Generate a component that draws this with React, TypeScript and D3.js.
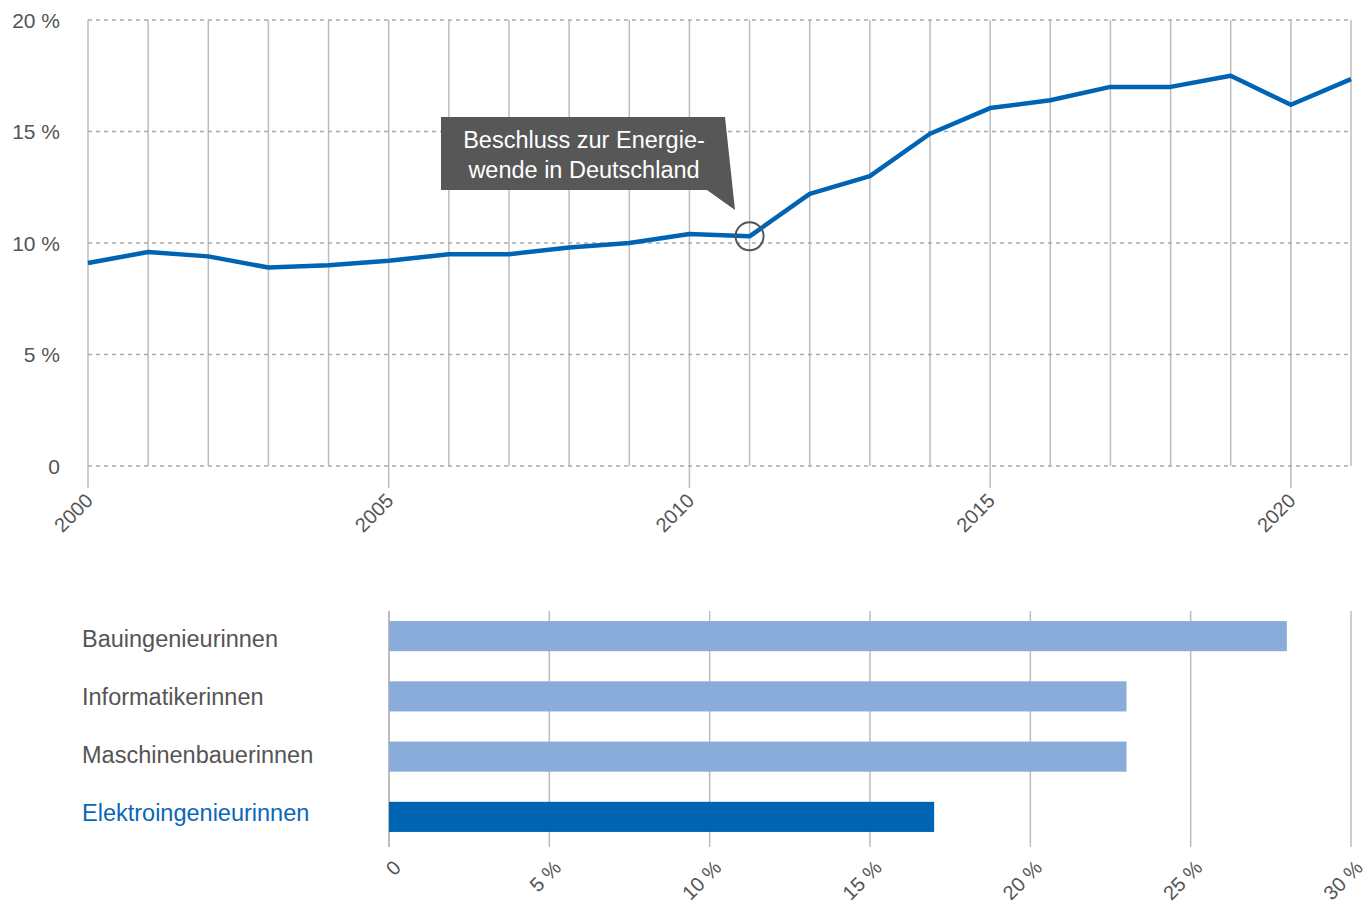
import React from "react";
import * as d3 from "d3";

const years = [2000, 2001, 2002, 2003, 2004, 2005, 2006, 2007, 2008, 2009, 2010, 2011, 2012, 2013, 2014, 2015, 2016, 2017, 2018, 2019, 2020, 2021];
const shares = [9.1, 9.6, 9.4, 8.9, 9.0, 9.2, 9.5, 9.5, 9.8, 10.0, 10.4, 10.3, 12.2, 13.0, 14.9, 16.05, 16.4, 17.0, 17.0, 17.5, 16.2, 17.35];
const yTicks = [0, 5, 10, 15, 20];
const xLabelYears = [2000, 2005, 2010, 2015, 2020];

const annotationLines = ["Beschluss zur Energie-", "wende in Deutschland"];
const annotationYear = 2011;

const barCategories = ["Bauingenieurinnen", "Informatikerinnen", "Maschinenbauerinnen", "Elektroingenieurinnen"];
const barValues = [28, 23, 23, 17];
const barHighlight = [false, false, false, true];
const barTicks = [0, 5, 10, 15, 20, 25, 30];

const FONT = "'Liberation Sans', Arial, Helvetica, sans-serif";
const GRID = "#bcbcbc";
const TEXT = "#555555";
const BLUE = "#0064b4";
const LIGHT = "#8aacdb";

export default function App() {
  const x = d3.scaleLinear().domain([2000, 2021]).range([88, 1351]);
  const y = d3.scaleLinear().domain([0, 20]).range([466, 20]);
  const line = d3.line<number>().x((_, i) => x(years[i])).y((d) => y(d));

  const bx = d3.scaleLinear().domain([0, 30]).range([389, 1351]);
  const by = d3.scaleBand<string>().domain(barCategories).range([606, 847]).paddingInner(0.5).paddingOuter(0.25);
  const labelY = d3.scalePoint<string>().domain(barCategories).range([647, 821]);

  const ai = years.indexOf(annotationYear);
  const ax = x(annotationYear);
  const ay = y(shares[ai]);

  return (
    <svg width={1366} height={903} style={{ position: "absolute", left: 0, top: 0, fontFamily: FONT }}>
      {/* vertical grid */}
      {years.map((yr) => (
        <line key={"v" + yr} x1={x(yr)} x2={x(yr)} y1={y(20)} y2={yr % 5 === 0 ? 488 : y(0)} stroke={GRID} strokeWidth={1.5} />
      ))}
      {/* horizontal dashed grid */}
      {yTicks.map((t) => (
        <g key={"h" + t}>
          <line x1={x(2000)} x2={x(2021)} y1={y(t)} y2={y(t)} stroke="#aaaaaa" strokeWidth={1.5} strokeDasharray="4,4" />
          <text x={60} y={y(t)} dy="0.38em" textAnchor="end" fontSize={21} fill={TEXT}>
            {t === 0 ? "0" : `${t} %`}
          </text>
        </g>
      ))}
      {xLabelYears.map((yr) => (
        <text key={"xl" + yr} transform={`translate(${x(yr) + 6},${502}) rotate(-45)`} textAnchor="end" fontSize={20} fill={TEXT}>
          {yr}
        </text>
      ))}
      <path d={line(shares) || ""} fill="none" stroke={BLUE} strokeWidth={4.5} strokeLinejoin="round" />
      {/* annotation */}
      <circle cx={ax} cy={ay} r={14} fill="none" stroke="#555" strokeWidth={2} />
      <polygon points={`441,117 725,117 735,210 707,190 441,190`} fill="#575757" />
      {annotationLines.map((l, i) => (
        <text key={"a" + i} x={584} y={148 + i * 30} textAnchor="middle" fontSize={23.5} fill="#fff">
          {l}
        </text>
      ))}

      {/* bar chart */}
      {barTicks.map((t) => (
        <g key={"bt" + t}>
          <line x1={bx(t)} x2={bx(t)} y1={611} y2={847} stroke={GRID} strokeWidth={t === 0 ? 2 : 1.5} />
          <text transform={`translate(${bx(t) + 13},${869}) rotate(-45)`} textAnchor="end" fontSize={20} fill={TEXT}>
            {t === 0 ? "0" : `${t} %`}
          </text>
        </g>
      ))}
      {barCategories.map((c, i) => (
        <g key={"b" + c}>
          <rect x={bx(0)} y={by(c)} width={bx(barValues[i]) - bx(0)} height={by.bandwidth()} fill={barHighlight[i] ? BLUE : LIGHT} />
          <text x={82} y={labelY(c)} fontSize={23.5} fill={barHighlight[i] ? "#0a66b8" : TEXT}>
            {c}
          </text>
        </g>
      ))}
    </svg>
  );
}
